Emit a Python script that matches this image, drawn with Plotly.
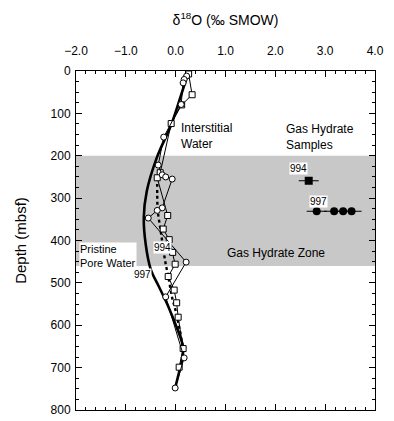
import plotly.graph_objects as go

# Site 997 pore water (open circles)
d997 = [12, 20, 28, 79, 156, 222, 245, 250, 255, 323, 329, 347, 451, 533, 677, 748]
o997 = [0.22, 0.17, 0.15, 0.11, -0.24, -0.35, -0.27, -0.20, -0.07, -0.27, -0.37, -0.55, 0.21, -0.20, 0.17, -0.01]

# Site 994 pore water (open squares)
d994 = [7, 56, 80, 124, 240, 252, 341, 373, 398, 428, 456, 485, 517, 547, 581, 655, 699]
o994 = [0.26, 0.33, 0.12, -0.09, -0.31, -0.37, -0.16, -0.25, -0.13, -0.06, -0.01, -0.15, -0.03, 0.02, 0.05, 0.15, 0.07]

# Pristine pore water baselines
base997_d = [12, 60, 127, 205, 284, 347, 410, 468, 508, 550, 590, 620, 653, 680, 710, 748]
base997_o = [0.23, 0.10, -0.09, -0.38, -0.58, -0.64, -0.60, -0.50, -0.34, -0.17, -0.03, 0.07, 0.15, 0.13, 0.07, -0.01]
base994_d = [252, 290, 329, 370, 410, 449, 484, 535, 566, 610, 655]
base994_o = [-0.37, -0.37, -0.36, -0.31, -0.26, -0.21, -0.15, -0.07, 0.00, 0.08, 0.15]

# Gas hydrate samples
gh994_d = [259]
gh994_o = [2.67]
gh997_d = [331, 331, 331, 331]
gh997_o = [2.83, 3.18, 3.36, 3.53]
gh_err = 0.2

zone_top, zone_bottom = 200, 460

font = "Liberation Sans, Arial, Helvetica, sans-serif"

fig = go.Figure()

fig.add_shape(type="rect", xref="paper", x0=0, x1=1, yref="y", y0=zone_top, y1=zone_bottom,
              fillcolor="#c8c8c8", line=dict(width=0), layer="below")

fig.add_trace(go.Scatter(x=base997_o, y=base997_d, mode="lines",
                         line=dict(color="black", width=2.6, shape="spline"), hoverinfo="skip"))
fig.add_trace(go.Scatter(x=base994_o, y=base994_d, mode="lines",
                         line=dict(color="black", width=2.4, dash="dot", shape="spline"), hoverinfo="skip"))
fig.add_trace(go.Scatter(x=o994, y=d994, mode="lines+markers",
                         line=dict(color="black", width=1),
                         marker=dict(symbol="square", size=6, color="white", line=dict(color="black", width=1))))
fig.add_trace(go.Scatter(x=o997, y=d997, mode="lines+markers",
                         line=dict(color="black", width=1),
                         marker=dict(symbol="circle", size=6, color="white", line=dict(color="black", width=1))))

fig.add_trace(go.Scatter(x=gh994_o, y=gh994_d, mode="markers",
                         marker=dict(symbol="square", size=8, color="black"),
                         error_x=dict(type="constant", value=gh_err, color="black", thickness=1, width=0)))
fig.add_trace(go.Scatter(x=gh997_o, y=gh997_d, mode="markers",
                         marker=dict(symbol="circle", size=8, color="black"),
                         error_x=dict(type="constant", value=gh_err, color="black", thickness=1, width=0)))

def ann(text, x, y, xanchor="left", bg=None, size=11):
    fig.add_annotation(x=x, y=y, xref="x", yref="y", text=text, showarrow=False,
                       xanchor=xanchor, yanchor="middle", align="left",
                       font=dict(family=font, size=size, color="black"),
                       bgcolor=bg, borderpad=0)

ann("Interstitial<br>Water", 0.08, 153, size=12)
ann("Gas Hydrate<br>Samples", 2.2, 155, size=12)
ann("Gas Hydrate Zone", 1.0, 429, size=12)
ann("Pristine<br>Pore Water", -1.94, 436, bg="white")
ann("994", -0.27, 417, xanchor="center", bg="white", size=10)
ann("997", -0.66, 481, xanchor="center", bg="white", size=10)
ann("994", 2.47, 229, xanchor="center", bg="white", size=10)
ann("997", 2.86, 307, xanchor="center", bg="white", size=10)

fig.update_layout(
    width=394, height=421,
    margin=dict(l=68, r=27, t=63, b=19, autoexpand=False),
    paper_bgcolor="white", plot_bgcolor="white",
    showlegend=False,
    font=dict(family=font, size=12, color="black"),
    title=dict(text="δ<sup>18</sup>O (‰ SMOW)", x=0.5, xanchor="center", xref="paper",
               y=1 - 12 / 421, yanchor="middle", font=dict(family=font, size=14)),
    xaxis=dict(side="top", range=[-2, 4], tick0=-2, dtick=1, tickformat=".1f",
               ticks="inside", ticklen=6, tickcolor="black", showgrid=False, zeroline=False,
               showline=True, linecolor="black", linewidth=1, mirror="ticks",
               ticklabelstandoff=10,
               minor=dict(dtick=0.2, ticks="inside", ticklen=3, tickcolor="black", showgrid=False),
               tickfont=dict(size=12)),
    yaxis=dict(range=[800, 0], tick0=0, dtick=100,
               ticks="inside", ticklen=6, tickcolor="black", showgrid=False, zeroline=False,
               showline=True, linecolor="black", linewidth=1, mirror="ticks",
               ticklabelstandoff=2,
               minor=dict(dtick=25, ticks="inside", ticklen=3, tickcolor="black", showgrid=False),
               title=dict(text="Depth (mbsf)", font=dict(size=15), standoff=20),
               tickfont=dict(size=12)),
)

fig.write_html("out.html")
